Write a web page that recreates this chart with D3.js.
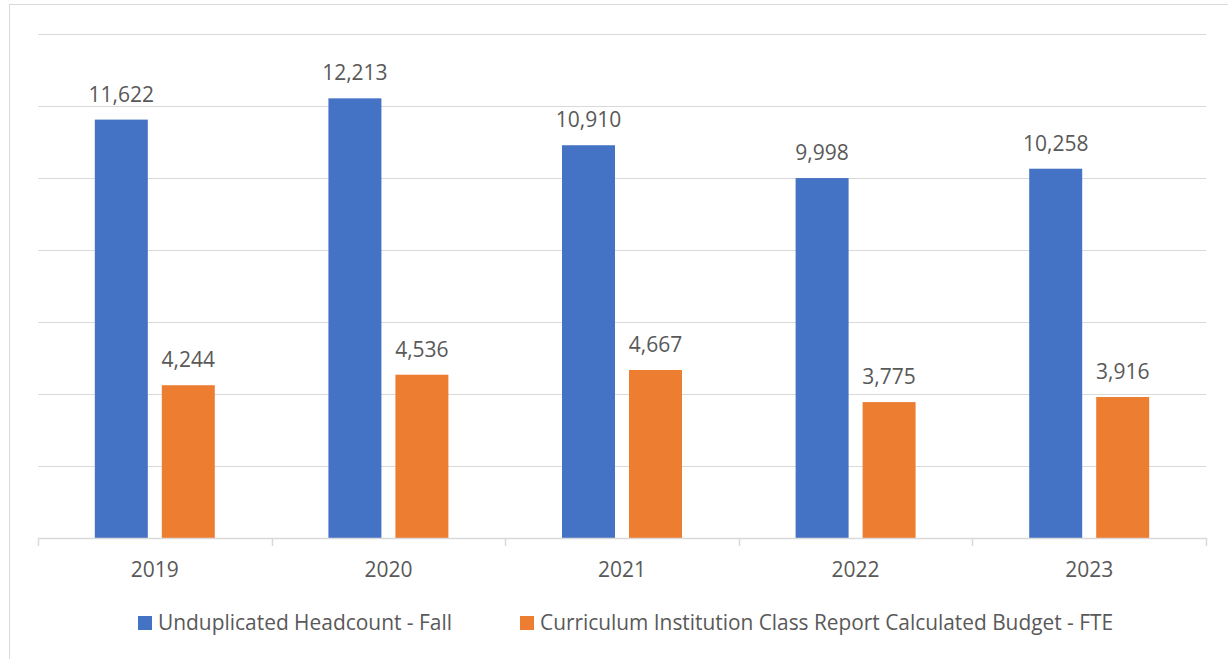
<!DOCTYPE html>
<html>
<head>
<meta charset="utf-8">
<script src="https://cdn.jsdelivr.net/npm/d3@7/dist/d3.min.js"></script>
<style>
  html, body { margin: 0; padding: 0; background: #fff; }
  svg { display: block; }
  text { font-family: "Open Sans", sans-serif; fill: #595959; }
</style>
</head>
<body>
<svg id="chart" width="1228" height="659"></svg>
<script>
const years = ["2019", "2020", "2021", "2022", "2023"];
const seriesNames = ["Unduplicated Headcount - Fall", "Curriculum Institution Class Report Calculated Budget - FTE"];
const headcount = [11622, 12213, 10910, 9998, 10258];
const fte = [4244, 4536, 4667, 3775, 3916];
const seriesColors = ["#4472C4", "#ED7D31"];
const yTicks = [0, 2000, 4000, 6000, 8000, 10000, 12000, 14000];

const svg = d3.select("#chart");
const plot = { left: 38, right: 1206, top: 34, bottom: 538 };

// frame
svg.append("rect")
  .attr("x", 9.5).attr("y", 4.5)
  .attr("width", 1240).attr("height", 700)
  .attr("fill", "none").attr("stroke", "#d9d9d9").attr("stroke-width", 1);

const x0 = d3.scaleBand().domain(years).range([plot.left, plot.right]).paddingInner(0).paddingOuter(0);
const x1 = d3.scaleBand().domain(seriesNames).range([0, x0.bandwidth()]).paddingInner(0.209).paddingOuter(0.848);
const y = d3.scaleLinear().domain([0, 14000]).range([plot.bottom, plot.top]);

// gridlines
svg.append("g").selectAll("line").data(yTicks.filter(d => d > 0)).join("line")
  .attr("x1", plot.left).attr("x2", plot.right)
  .attr("y1", d => Math.round(y(d)) + 0.5).attr("y2", d => Math.round(y(d)) + 0.5)
  .attr("stroke", "#d9d9d9").attr("stroke-width", 1.2);

const data = years.map((yr, i) => ({ year: yr, values: [headcount[i], fte[i]] }));

// bars
const groups = svg.append("g").selectAll("g").data(data).join("g")
  .attr("transform", d => `translate(${x0(d.year)},0)`);

groups.selectAll("rect").data(d => d.values.map((v, j) => ({ v, s: seriesNames[j], j }))).join("rect")
  .attr("x", d => x1(d.s))
  .attr("width", x1.bandwidth())
  .attr("y", d => y(d.v))
  .attr("height", d => y(0) - y(d.v))
  .attr("fill", d => seriesColors[d.j]);

const fmt = d3.format(",");
groups.selectAll("text.lbl").data(d => d.values.map((v, j) => ({ v, s: seriesNames[j], j }))).join("text")
  .attr("class", "lbl")
  .attr("x", d => x1(d.s) + x1.bandwidth() / 2)
  .attr("y", d => y(d.v) - 18)
  .attr("text-anchor", "middle")
  .style("font-size", "21px")
  .text(d => fmt(d.v));

// x axis
const axisG = svg.append("g").attr("transform", `translate(0,${plot.bottom})`);
axisG.append("line")
  .attr("x1", plot.left).attr("x2", plot.right)
  .attr("y1", 0.5).attr("y2", 0.5)
  .attr("stroke", "#d9d9d9").attr("stroke-width", 1.5);
const boundaries = years.map(yr => x0(yr)).concat([plot.right]);
axisG.selectAll("line.tick").data(boundaries).join("line")
  .attr("class", "tick")
  .attr("x1", d => Math.round(d) + 0.5).attr("x2", d => Math.round(d) + 0.5)
  .attr("y1", 0).attr("y2", 8)
  .attr("stroke", "#d9d9d9").attr("stroke-width", 1.5);
axisG.selectAll("text.yr").data(years).join("text")
  .attr("class", "yr")
  .attr("x", d => x0(d) + x0.bandwidth() / 2)
  .attr("y", 39)
  .attr("text-anchor", "middle")
  .style("font-size", "21px")
  .text(d => d);

// legend
const legendPos = [{ sq: 138, tx: 158, tw: 294 }, { sq: 520, tx: 540, tw: 573 }];
const leg = svg.append("g");
seriesNames.forEach((name, i) => {
  leg.append("rect")
    .attr("x", legendPos[i].sq).attr("y", 616)
    .attr("width", 14).attr("height", 14)
    .attr("fill", seriesColors[i]);
  leg.append("text")
    .attr("x", legendPos[i].tx).attr("y", 630)
    .style("font-size", "21px")
    .attr("textLength", legendPos[i].tw)
    .attr("lengthAdjust", "spacingAndGlyphs")
    .text(name);
});
</script>
</body>
</html>
